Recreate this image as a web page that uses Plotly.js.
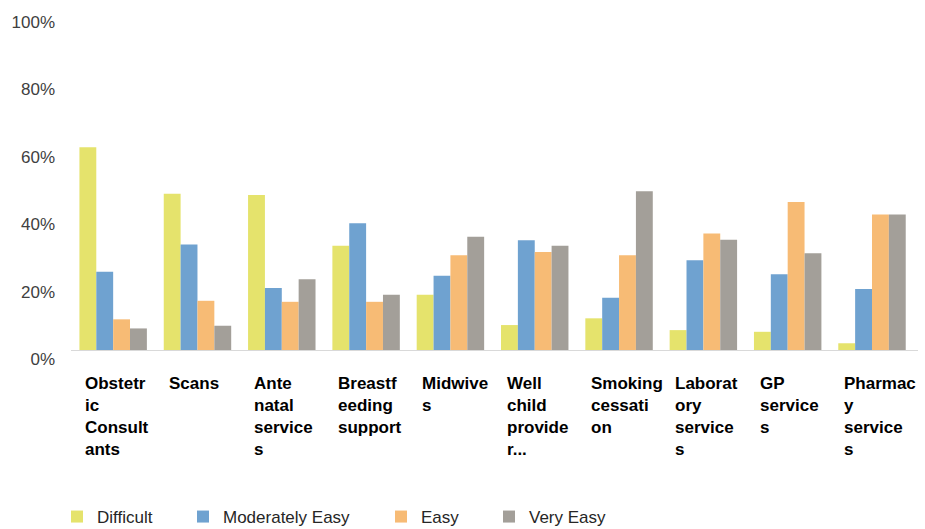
<!DOCTYPE html>
<html>
<head>
<meta charset="utf-8">
<script src="https://cdn.plot.ly/plotly-3.0.1.min.js"></script>
<style>html,body{margin:0;padding:0;background:#fff;}#chart{width:925px;height:529px;}</style>
</head>
<body>
<div id="chart"></div>
<script>
const categories = ["Obstetric Consultants","Scans","Ante natal services","Breastfeeding support","Midwives","Well child provider","Smoking cessation","Laboratory services","GP services","Pharmacy services"];
const categoryLabels = ["Obstetr<br>ic<br>Consult<br>ants","Scans","Ante<br>natal<br>service<br>s","Breastf<br>eeding<br>support","Midwive<br>s","Well<br>child<br>provide<br>r...","Smoking<br>cessati<br>on","Laborat<br>ory<br>service<br>s","GP<br>service<br>s","Pharmac<br>y<br>service<br>s"];
const difficult = [60.2, 46.4, 46.0, 30.9, 16.4, 7.4, 9.4, 5.9, 5.4, 2.0];
const moderatelyEasy = [23.2, 31.3, 18.4, 37.6, 22.0, 32.6, 15.5, 26.6, 22.5, 18.1];
const easy = [9.1, 14.6, 14.3, 14.3, 28.1, 29.1, 28.1, 34.6, 43.9, 40.2];
const veryEasy = [6.4, 7.2, 21.0, 16.4, 33.6, 30.9, 47.1, 32.7, 28.7, 40.2];
const seriesNames = ["Difficult","Moderately Easy","Easy","Very Easy"];
const yTickVals = [0,20,40,60,80,100];
const yTickText = ["0%","20%","40%","60%","80%","100%"];

const colors = ["#e5e36c","#6fa2d0","#f7bb75","#a39f99"];
const legendIds = ["legend","legend2","legend3","legend4"];
const data = [difficult, moderatelyEasy, easy, veryEasy].map((vals, i) => ({
  type: "bar",
  name: seriesNames[i],
  x: categories,
  y: vals,
  marker: {color: colors[i], line: {width: 0}},
  legend: legendIds[i],
  showlegend: true,
  hoverinfo: "y+name"
}));

const W = 925, H = 529;
const plotL = 71, plotR = 918, plotT = 13, plotB = 350;
const pw = plotR - plotL, ph = plotB - plotT;
const px2x = p => (p - plotL) / pw;
const py2y = p => (plotB - p) / ph;

const legendFont = {family: "Liberation Sans, Arial, sans-serif", size: 17, color: "#262626"};
const legendPos = [[57, "left"], [183, "left"], [381, "left"], [489, "left"]];
const layout = {
  width: W, height: H,
  showlegend: true,
  margin: {l: plotL, r: W - plotR, t: plotT, b: H - plotB, pad: 0, autoexpand: false},
  paper_bgcolor: "#ffffff",
  plot_bgcolor: "#ffffff",
  barmode: "group",
  bargap: 0.2,
  bargroupgap: 0,
  font: {family: "Liberation Sans, Arial, sans-serif", size: 17, color: "#404040"},
  xaxis: {
    type: "category",
    showticklabels: false,
    ticks: "",
    showline: true,
    linecolor: "#d9d9d9",
    linewidth: 1,
    showgrid: false,
    zeroline: false
  },
  yaxis: {
    range: [0, 100],
    tickvals: yTickVals,
    ticktext: yTickText,
    showgrid: false,
    zeroline: false,
    showline: false,
    ticks: "",
    ticklabelstandoff: 15,
    ticklabelshift: 9,
    tickfont: {family: "Liberation Sans, Arial, sans-serif", size: 17, color: "#404040"}
  },
  annotations: categories.map((c, i) => ({
    x: c, xref: "x",
    y: py2y(372), yref: "paper",
    xanchor: "left", yanchor: "top",
    xshift: -30,
    align: "left",
    showarrow: false,
    text: categoryLabels[i],
    font: {family: "Liberation Sans, Arial, sans-serif", size: 17, color: "#000000", weight: "bold"}
  }))
};
legendIds.forEach((id, i) => {
  layout[id] = {
    visible: true,
    orientation: "h",
    x: px2x(legendPos[i][0]), xanchor: legendPos[i][1],
    y: py2y(517), yanchor: "middle",
    font: legendFont,
    bgcolor: "rgba(0,0,0,0)"
  };
});

Plotly.newPlot("chart", data, layout, {displayModeBar: false, staticPlot: true});
</script>
</body>
</html>
